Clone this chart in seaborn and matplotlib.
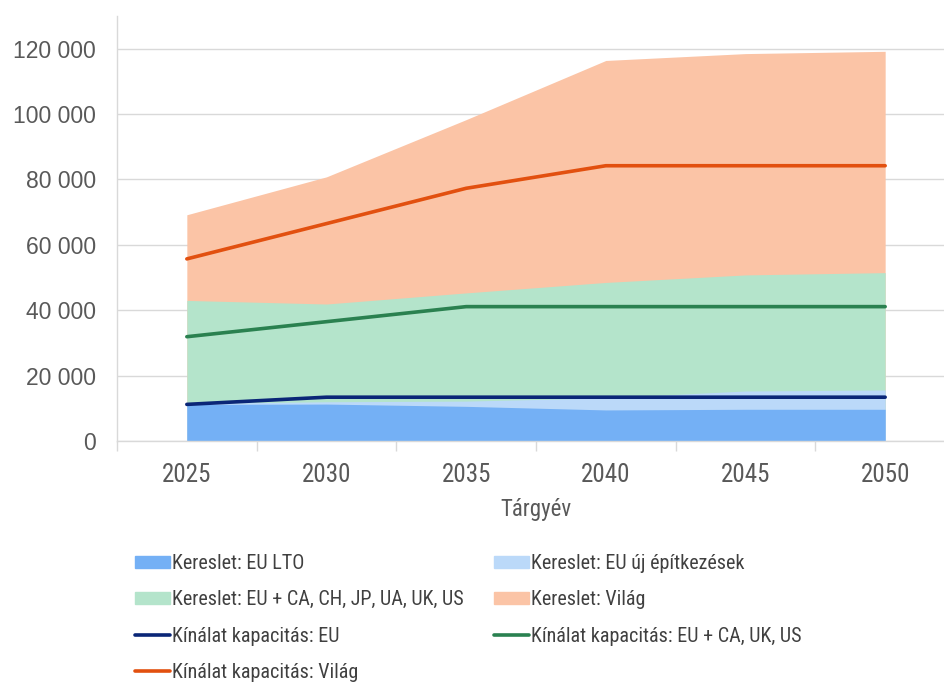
import numpy as np
import matplotlib
matplotlib.use("Agg")
import matplotlib.pyplot as plt
import seaborn as sns
import pandas as pd
from matplotlib.patches import Patch
from matplotlib.lines import Line2D
from matplotlib.ticker import FuncFormatter, FixedLocator

# === Data ===
years = [2025, 2030, 2035, 2040, 2045, 2050]
demand_eu_lto = [11200, 11300, 10600, 9500, 9700, 9700]
demand_eu_new = [11500, 12000, 12200, 13200, 15300, 15600]
demand_eu_plus = [43000, 41900, 45300, 48500, 50800, 51500]
demand_world = [69200, 80800, 98300, 116400, 118500, 119200]
supply_eu = [11200, 13400, 13400, 13400, 13400, 13400]
supply_eu_plus = [31900, 36500, 41100, 41100, 41100, 41100]
supply_world = [55700, 66500, 77300, 84200, 84200, 84200]

lab_lto = "Kereslet: EU LTO"
lab_new = "Kereslet: EU új építkezések"
lab_plus = "Kereslet: EU + CA, CH, JP, UA, UK, US"
lab_world = "Kereslet: Világ"
lab_s_eu = "Kínálat kapacitás: EU"
lab_s_plus = "Kínálat kapacitás: EU + CA, UK, US"
lab_s_world = "Kínálat kapacitás: Világ"

narrow = ["Roboto Condensed", "Liberation Sans Narrow", "DejaVu Sans"]

sns.set_theme(style="white")
plt.rcParams["font.family"] = ["Liberation Sans", "DejaVu Sans"]

fig = plt.figure(figsize=(9.44, 6.82), dpi=100)
ax = fig.add_axes([117 / 944, 241 / 682, (955 - 117) / 944, 425 / 682])

# === Areas (overlapping, drawn back to front) ===
areas = [
    (demand_world, "#FBC4A6"),
    (demand_eu_plus, "#B4E4CB"),
    (demand_eu_new, "#BBD9F9"),
    (demand_eu_lto, "#74B0F5"),
]
for vals, col in areas:
    ax.fill_between(years, 0, vals, color=col, lw=0, zorder=2)

# === Supply lines ===
lines = pd.DataFrame({
    "year": years * 3,
    "value": supply_eu + supply_eu_plus + supply_world,
    "series": [lab_s_eu] * 6 + [lab_s_plus] * 6 + [lab_s_world] * 6,
})
line_colors = {lab_s_eu: "#0A2677", lab_s_plus: "#2A8150", lab_s_world: "#E2500F"}
sns.lineplot(data=lines, x="year", y="value", hue="series", palette=line_colors,
             lw=2.6, ax=ax, legend=False, zorder=4)

# === Axes styling ===
ax.set_xlim(2022.5, 2052.5)
ax.set_ylim(0, 130000)
ax.yaxis.set_major_locator(FixedLocator(np.arange(0, 130000, 20000)))
ax.yaxis.set_major_formatter(FuncFormatter(lambda v, p: f"{int(v):,}".replace(",", " ")))
ax.set_xticks(years)
ax.set_xticks([2022.5 + 5 * i for i in range(7)], minor=True)
ax.grid(axis="y", color="#D9D9D9", lw=1, zorder=0)
ax.grid(axis="x", visible=False)
for s in ["top", "right"]:
    ax.spines[s].set_visible(False)
for s in ["left", "bottom"]:
    ax.spines[s].set_color("#D9D9D9")
    ax.spines[s].set_linewidth(1)
ax.tick_params(axis="y", length=0, labelsize=16.5, labelcolor="#595959", pad=15)
ax.tick_params(axis="x", which="major", length=0, labelsize=18, labelcolor="#595959", pad=16)
ax.tick_params(axis="x", which="minor", length=7, width=1, color="#D9D9D9", bottom=True)
for t in ax.get_xticklabels():
    t.set_fontfamily(narrow)
ax.set_xlabel("Tárgyév", fontsize=16.5, color="#595959", family=narrow, labelpad=8)
ax.set_ylabel("")

# === Legend ===
h = {
    lab_lto: Patch(color="#74B0F5"),
    lab_new: Patch(color="#BBD9F9"),
    lab_plus: Patch(color="#B4E4CB"),
    lab_world: Patch(color="#FBC4A6"),
    lab_s_eu: Line2D([], [], color=line_colors[lab_s_eu], lw=2.6),
    lab_s_plus: Line2D([], [], color=line_colors[lab_s_plus], lw=2.6),
    lab_s_world: Line2D([], [], color=line_colors[lab_s_world], lw=2.6),
}
order = [lab_lto, lab_plus, lab_s_eu, lab_s_world, lab_new, lab_world, lab_s_plus]
fig.legend([h[k] for k in order], order, loc="upper left",
           bbox_to_anchor=(135 / 944, 1 - 554 / 682), ncol=2, frameon=False,
           prop={"family": narrow, "size": 14.5}, labelcolor="#404040",
           handlelength=1.75, handleheight=0.55, handletextpad=0.1,
           columnspacing=1.5, labelspacing=0.86, borderaxespad=0, borderpad=0)

fig.savefig("out.png", dpi=100)
